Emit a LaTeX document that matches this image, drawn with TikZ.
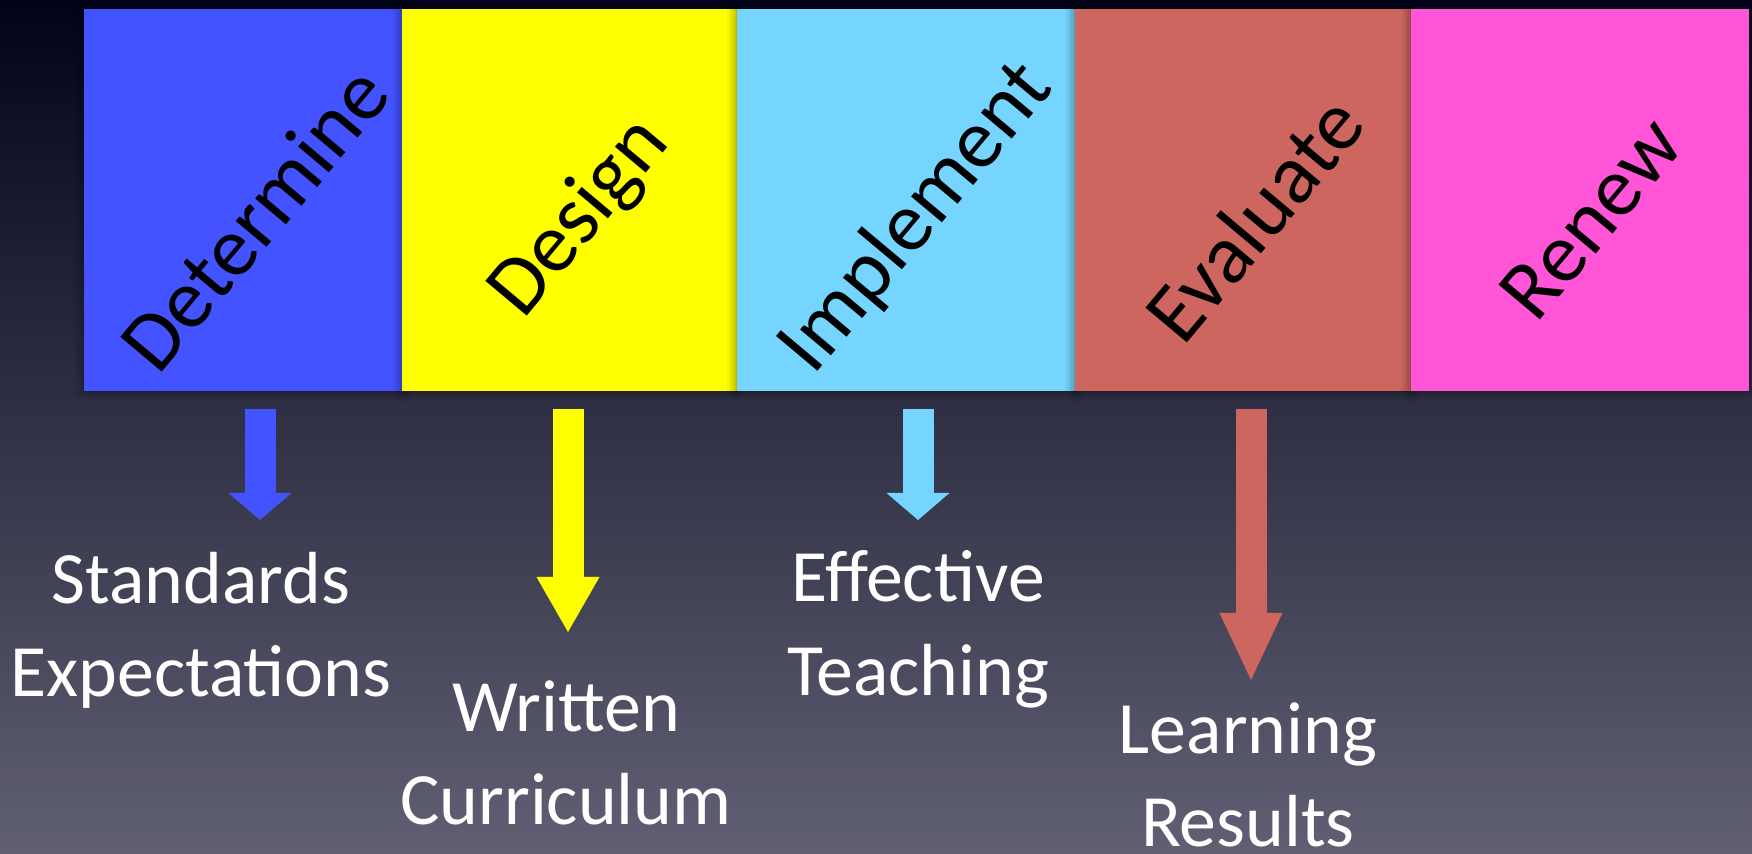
\documentclass[tikz,border=0pt]{standalone}
\usepackage{fontspec}
\setmainfont{Carlito}
\usetikzlibrary{positioning,arrows.meta,shadows.blur}

\definecolor{bgtop}{HTML}{02031A}
\definecolor{bgmid}{HTML}{3C3C51}
\definecolor{bgbot}{HTML}{605F73}
\definecolor{detblue}{HTML}{4353FF}
\definecolor{desyellow}{HTML}{FFFF00}
\definecolor{impcyan}{HTML}{75D5FF}
\definecolor{evalred}{HTML}{CC665E}
\definecolor{renpink}{HTML}{FF55D6}

\begin{document}
\begin{tikzpicture}[x=0.1mm,y=-0.1mm,
    phasebox/.style={draw=none,inner sep=0pt,outer sep=0pt,minimum height=38.2mm,
      blur shadow={shadow xshift=0pt,shadow yshift=0pt,shadow blur radius=1mm,shadow opacity=55}},
    phase/.style={rotate=50,yshift=-2mm,xshift=-0.7mm,text=black,font=\fontsize{24}{28}\selectfont},
    result/.style={align=center,anchor=base,text=white,font=\fontsize{21}{26.5}\selectfont},
    flow/.style={line width=3.1mm,-{Triangle[length=#1,width=6.3mm,line width=0pt]}}]
    \useasboundingbox (0,0) rectangle (1752,854);
    \shade[top color=bgtop,middle color=bgmid,bottom color=bgbot] (0,0) rectangle (1752,854);

    % the five phases
    \node[phasebox,fill=detblue,minimum width=31.8mm] (determine) at (243,200) {};
    \node[phasebox,fill=desyellow,minimum width=33.5mm] (design) at (569.5,200) {};
    \node[phasebox,fill=impcyan,minimum width=33.8mm] (implement) at (906,200) {};
    \node[phasebox,fill=evalred,minimum width=33.6mm] (evaluate) at (1243,200) {};
    \node[phasebox,fill=renpink,minimum width=33.8mm] (renew) at (1580,200) {};
    \node[phase] at (determine) {Determine};
    \node[phase] at (design) {Design};
    \node[phase] at (implement) {Implement};
    \node[phase] at (evaluate) {Evaluate};
    \node[phase] at (renew) {Renew};

    % what each phase gives (base = last line)
    \node[result] (standards) at (201,697) {Standards\\Expectations};
    \node[result] (written) at (566,825) {Written\\Curriculum};
    \node[result] (effective) at (918,695) {Effective\\Teaching};
    \node[result] (learning) at (1248,847) {Learning\\Results};

    \coordinate (det-a) at (260,409);
    \coordinate (det-b) at (260,520);
    \coordinate (des-a) at (568,409);
    \coordinate (des-b) at (568,632);
    \coordinate (imp-a) at (918,409);
    \coordinate (imp-b) at (918,520);
    \coordinate (eva-a) at (1251,409);
    \coordinate (eva-b) at (1251,680);
    \draw[flow=2.7mm,detblue] (det-a) -- (det-b);
    \draw[flow=5.5mm,desyellow] (des-a) -- (des-b);
    \draw[flow=2.7mm,impcyan] (imp-a) -- (imp-b);
    \draw[flow=6.7mm,evalred] (eva-a) -- (eva-b);
\end{tikzpicture}
\end{document}
